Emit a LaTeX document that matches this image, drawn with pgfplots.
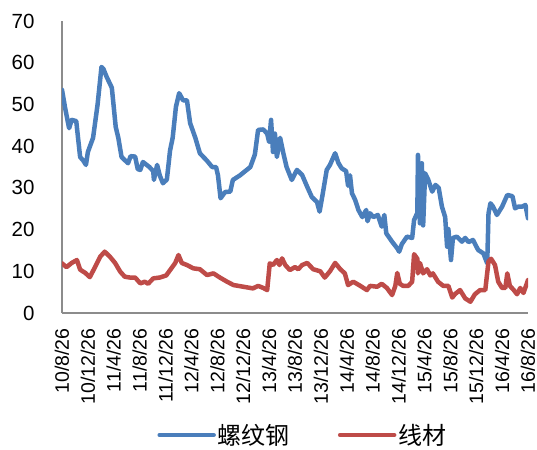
\documentclass[border=0pt]{standalone}
\usepackage{pgfplots}
\pgfplotsset{compat=1.18}
\usepackage{fontspec}
\setmainfont{Liberation Sans}
\newfontfamily\cjk{Noto Sans CJK SC}
\definecolor{cblue}{HTML}{4A7EBB}
\definecolor{cred}{HTML}{BE4B48}
\definecolor{axgray}{HTML}{8C8C8C}
\begin{document}
\begin{tikzpicture}
\begin{axis}[
  at={(0pt,0pt)}, anchor=south west,
  scale only axis, width=466pt, height=292pt,
  xmin=0, xmax=72, ymin=0, ymax=70,
  xtick={0,4,...,72},
  xticklabels={10/8/26,10/12/26,11/4/26,11/8/26,11/12/26,12/4/26,12/8/26,12/12/26,13/4/26,13/8/26,13/12/26,14/4/26,14/8/26,14/12/26,15/4/26,15/8/26,15/12/26,16/4/26,16/8/26},
  ytick={0,10,...,70},
  x tick label style={rotate=90, anchor=east, font=\fontsize{19.5}{22}\selectfont},
  y tick label style={font=\fontsize{20.5}{24}\selectfont},
  /pgf/number format/assume math mode=true,
  major tick length=0pt,
  xtick pos=bottom, ytick pos=left,
  xticklabel shift=12pt, yticklabel shift=24pt,
  axis x line*=bottom, axis y line*=left,
  axis line style={axgray, line width=1.5pt, -},
  legend columns=2,
  legend style={draw=none, at={(0.517,-0.418)}, anchor=center, font=\cjk\fontsize{24}{28}\selectfont,
    /tikz/every even column/.append style={column sep=46pt}},
  legend image code/.code={\draw[#1] (0pt,0pt) -- (54pt,0pt);},
  every axis plot/.append style={line width=4.5pt, line join=round, line cap=round},
]
\addplot[cblue] coordinates {
(0,53.5) (0.5,49) (1.1,44.3) (1.5,46.3) (2.2,46) (2.8,37.4) (3.3,36.5) (3.7,35.5) (4.0,38.6) (4.8,42) (5.5,50) (6.1,59) (6.4,58.5) (6.9,56.6) (7.7,54) (8.3,44.6) (8.7,42) (9.2,37.4) (10.2,35.9) (10.6,37.6) (11.3,37.5) (11.7,34.5) (12.1,34.3) (12.5,36.2) (13.5,35) (14.1,34) (14.2,31.9) (14.7,35.5) (15.1,33) (15.6,31.1) (16.2,32) (16.7,39) (17.1,42) (17.6,49.4) (18.1,52.7) (18.7,51) (19.3,51) (19.8,45.5) (20.6,42) (21.3,38.3) (22.4,36.5) (23.2,35) (23.8,35) (24.1,33) (24.5,27.5) (25.2,29) (26,29.1) (26.4,31.9) (27.5,33) (29.1,35) (29.8,38) (30.3,43.9) (31.1,44) (31.7,43) (32,41) (32.3,46.3) (32.6,38.6) (32.9,43) (33.2,37.4) (33.7,42) (34.2,38.3) (34.7,35) (35.5,31.9) (36.3,34.3) (37.1,33.1) (37.9,30.2) (38.6,27.8) (39.4,26.6) (39.8,24.3) (40.3,28.7) (40.9,34.3) (41.4,35.5) (42.2,38.3) (42.7,36) (43.2,34.7) (43.9,34) (44.2,30.5) (44.5,33) (44.8,28.7) (45.3,27.1) (45.8,24.7) (46.4,23) (47,24.7) (47.2,22) (47.6,23.9) (48.1,23) (48.8,23.5) (49.4,20.7) (49.8,23.5) (50.1,19.1) (51,17.1) (51.8,15.5) (52.1,14.7) (52.5,16.5) (53.3,18.3) (54.1,18) (54.4,22.3) (54.9,24) (55,37.9) (55.3,21.5) (55.6,35.9) (55.8,21) (56.1,33.5) (56.6,31.9) (57.2,29.1) (57.7,30.7) (58.2,30) (58.7,25.5) (59.2,23) (59.5,15.9) (59.7,20.1) (60.1,12.7) (60.4,18) (61,18.3) (61.8,17.1) (62.3,18) (62.8,17) (63.5,17.5) (64.3,15.1) (65.1,14.3) (65.7,11.9) (65.9,23.9) (66.2,26.3) (66.6,25.5) (67.2,23.5) (68,25.5) (68.8,28.3) (69.6,28) (70,25.1) (70.5,25.5) (71.1,25.5) (71.6,25.9) (72,22.7)
};
\addlegendentry{螺纹钢}
\addplot[cred] coordinates {
(0,11.9) (0.7,11) (1.5,12) (2.3,12.7) (2.8,10.4) (3.6,9.6) (4.3,8.6) (5.1,11) (5.9,13.5) (6.6,14.7) (7.4,13.5) (8.2,12) (9,9.9) (9.7,8.7) (10.5,8.5) (11.3,8.5) (12.1,7.1) (12.8,7.5) (13.3,7) (14.1,8.3) (15.1,8.5) (16.1,9) (16.8,10.5) (17.5,12) (18,13.9) (18.5,12) (19.3,11.5) (20.3,10.7) (21.3,10.5) (22.4,9.1) (23.4,9.5) (24.4,8.5) (25.5,7.5) (26.5,6.7) (28,6.3) (29.5,5.9) (30.3,6.5) (31.1,6) (31.7,5.5) (32.1,11.9) (32.6,11.5) (33.2,12.7) (33.6,11.5) (34,13.1) (34.5,11.5) (35.2,10.3) (36,11) (36.5,10.5) (37.1,11.5) (37.9,12) (38.8,10.5) (39.9,10) (40.6,8.5) (41.4,10) (42.2,12) (43,10.5) (43.7,9.5) (44.2,6.7) (45,7.5) (46.1,6.5) (47.1,5.5) (47.6,6.5) (48.7,6.3) (49.4,7) (50.2,6) (51,4.3) (51.5,6.5) (51.8,9.6) (52.2,7) (52.7,6.5) (53.5,6.5) (54.1,7.5) (54.4,14.1) (54.9,13) (55,9.5) (55.3,12) (55.8,9.5) (56.4,10.5) (56.9,9) (57.3,9.5) (58.1,7.5) (58.9,6.5) (59.7,6.5) (60.3,3.7) (60.7,4.5) (61.5,5.5) (62.3,3.5) (63.1,2.7) (63.8,4.5) (64.6,5.5) (65.4,5.5) (65.9,12.4) (66.3,13) (66.9,11.5) (67.4,7.5) (68,6) (68.5,6) (68.8,9.5) (69.2,6.5) (69.8,5.5) (70.3,4.5) (70.8,6) (71.3,4.8) (71.8,7) (72,7.9)
};
\addlegendentry{线材}
\end{axis}
\pgfresetboundingbox
\path[use as bounding box] (-62pt,-136pt) rectangle (475pt,313pt);
\end{tikzpicture}
\end{document}
